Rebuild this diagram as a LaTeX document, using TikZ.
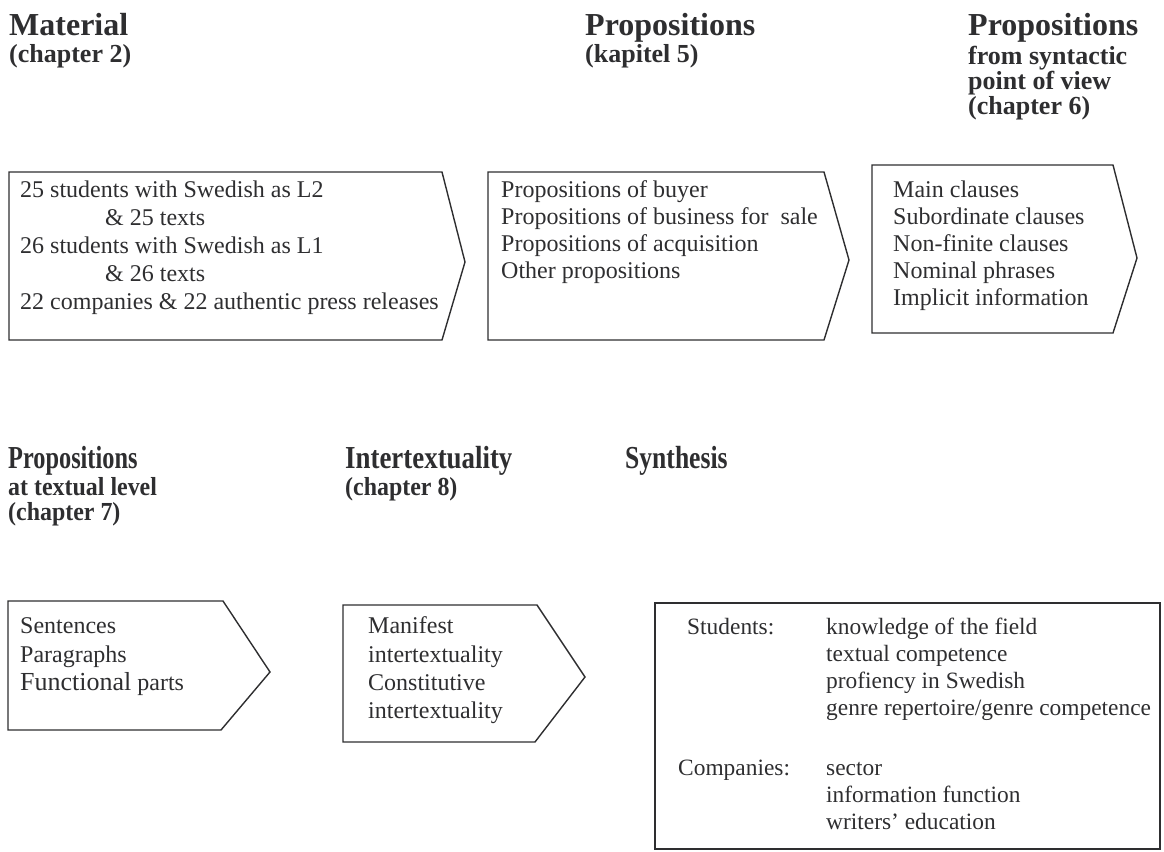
\documentclass[tikz,border=0pt]{standalone}
\usepackage{fontspec}
\setmainfont{Liberation Serif}
\definecolor{ink}{HTML}{2E2E30}
\tikzset{
  frame/.style={draw=ink, line width=1.4pt, line join=miter},
  body/.style={anchor=base west, inner sep=0pt, text=ink, font=\fontsize{24}{28}\selectfont},
  synth/.style={anchor=base west, inner sep=0pt, text=ink, font=\fontsize{23.4}{28}\selectfont},
  head/.style={anchor=base west, inner sep=0pt, text=ink, font=\fontsize{32}{36}\selectfont\bfseries},
  subhead/.style={anchor=base west, inner sep=0pt, text=ink, font=\fontsize{26}{30}\selectfont\bfseries},
}
\newcommand{\cond}[1]{\scalebox{0.8}[1]{#1}}
\newcommand{\condsub}[1]{\scalebox{0.92}[1]{#1}}
\begin{document}
\begin{tikzpicture}[x=1pt,y=-1pt]
\useasboundingbox (0,0) rectangle (1164,851);
% headings top
\node[head] (h1) at (9,36) {Material};
\node[subhead] (h1s) at (9,63) {(chapter 2)};
\node[head] (h2) at (585,36) {Propositions};
\node[subhead] (h2s) at (585,63) {(kapitel 5)};
\node[head] (h3) at (968,36) {Propositions};
\node[subhead] (h3a) at (968,64) {from syntactic};
\node[subhead] (h3b) at (968,89) {point of view};
\node[subhead] (h3c) at (968,114) {(chapter 6)};
% boxes top
\draw[frame] (9,172) -- (442,172) -- (465,262) -- (442,340) -- (9,340) -- cycle;
\draw[frame] (488,172) -- (824,172) -- (849,260) -- (824,340) -- (488,340) -- cycle;
\draw[frame] (872,165) -- (1113,165) -- (1137,258) -- (1113,333) -- (872,333) -- cycle;
% box 1 text
\node[body] (m1) at (20,197) {25 students with Swedish as L2};
\node[body] (m2) at (105,225) {\& 25 texts};
\node[body] (m3) at (20,253) {26 students with Swedish as L1};
\node[body] (m4) at (105,281) {\& 26 texts};
\node[body] (m5) at (20,309) {22 companies \& 22 authentic press releases};
% box 2 text
\node[body] (p1) at (501,197) {Propositions of buyer};
\node[body] (p2) at (501,224) {Propositions of business for\ \ sale};
\node[body] (p3) at (501,251) {Propositions of acquisition};
\node[body] (p4) at (501,278) {Other propositions};
% box 3 text
\node[body] (s1) at (893,197) {Main clauses};
\node[body] (s2) at (893,224) {Subordinate clauses};
\node[body] (s3) at (893,251) {Non-finite clauses};
\node[body] (s4) at (893,278) {Nominal phrases};
\node[body] (s5) at (893,305) {Implicit information};
% headings bottom
\node[head] (h4) at (8,468) {\scalebox{0.76}[1]{Propositions}};
\node[subhead] (h4a) at (8,495) {\condsub{at textual level}};
\node[subhead] (h4b) at (8,520) {\condsub{(chapter 7)}};
\node[head] (h5) at (345,468) {\scalebox{0.84}[1]{Intertextuality}};
\node[subhead] (h5a) at (345,495) {\condsub{(chapter 8)}};
\node[head] (h6) at (625,468) {\cond{Synthesis}};
% boxes bottom
\draw[frame] (8,601) -- (223,601) -- (270,672) -- (221,730) -- (8,730) -- cycle;
\draw[frame] (343,605) -- (537,605) -- (585,677) -- (535,742) -- (343,742) -- cycle;
\draw[frame] (655,603) rectangle (1160,849);
% box 4 text
\node[body] (t1) at (20,633) {Sentences};
\node[body] (t2) at (20,662) {Paragraphs};
\node[body] (t3) at (20,690) {{\fontsize{26}{28}\selectfont Functional} parts};
% box 5 text
\node[body] (i1) at (368,633) {Manifest};
\node[body] (i2) at (368,662) {intertextuality};
\node[body] (i3) at (368,690) {Constitutive};
\node[body] (i4) at (368,718) {intertextuality};
% box 6 text
\node[synth] (y1) at (687,634) {Students:};
\node[synth] (y2) at (826,634) {knowledge of the field};
\node[synth] (y3) at (826,661) {textual competence};
\node[synth] (y4) at (826,688) {profiency in Swedish};
\node[synth] (y5) at (826,715) {genre repertoire/genre competence};
\node[synth] (y6) at (678,775) {Companies:};
\node[synth] (y7) at (826,775) {sector};
\node[synth] (y8) at (826,802) {information function};
\node[synth] (y9) at (826,829) {writers’ education};
\end{tikzpicture}
\end{document}
